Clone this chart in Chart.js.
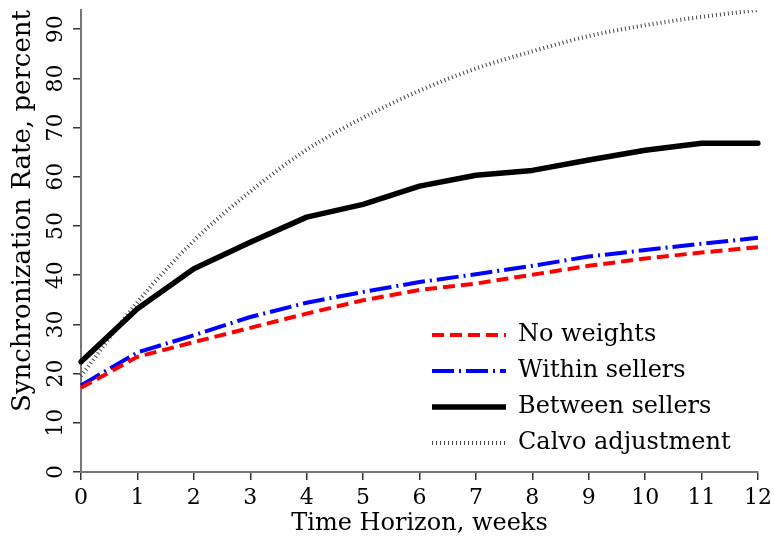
<!DOCTYPE html>
<html>
<head>
<meta charset="utf-8">
<script src="https://cdn.jsdelivr.net/npm/chart.js@4.4.0/dist/chart.umd.min.js"></script>
<style>
  html, body { margin: 0; padding: 0; background: #fff; }
</style>
</head>
<body>
<canvas id="chart" width="774" height="538"></canvas>
<script>
// weeks on the x axis
const weeks = ['0', '1', '2', '3', '4', '5', '6', '7', '8', '9', '10', '11', '12'];
// synchronization rates, percent
const noWeights = [17.1, 23.4, 26.4, 29.3, 32.2, 34.9, 37.0, 38.3, 40.1, 41.9, 43.4, 44.6, 45.7];
const withinSellers = [17.6, 24.3, 27.8, 31.5, 34.4, 36.6, 38.6, 40.2, 41.9, 43.8, 45.1, 46.4, 47.6];
const betweenSellers = [22.4, 33.2, 41.3, 46.7, 51.8, 54.4, 58.1, 60.3, 61.3, 63.4, 65.4, 66.8, 66.8];
const calvo = [19.5, 34.5, 47.0, 57.0, 65.5, 72.0, 77.5, 82.0, 85.5, 88.6, 90.8, 92.5, 93.9];
const yTicks = [0, 10, 20, 30, 40, 50, 60, 70, 80, 90];

const SERIF = '"DejaVu Serif", serif';

// y tick labels + y title are rotated in the original, so draw them here
const sideText = {
  id: 'sideText',
  afterDraw(chart) {
    const ctx = chart.ctx, y = chart.scales.y;
    ctx.save();
    ctx.fillStyle = '#000';
    ctx.textAlign = 'center';
    ctx.textBaseline = 'middle';
    ctx.font = '22px ' + SERIF;
    yTicks.forEach(v => {
      ctx.save();
      ctx.translate(56, y.getPixelForValue(v));
      ctx.rotate(-Math.PI / 2);
      ctx.fillText(String(v), 0, 0);
      ctx.restore();
    });
    ctx.font = '26px ' + SERIF;
    ctx.translate(23, 211);
    ctx.rotate(-Math.PI / 2);
    ctx.fillText('Synchronization Rate, percent', 0, 0);
    ctx.restore();
  }
};

// legend with line samples, bottom right inside the plot
const lineKey = {
  id: 'lineKey',
  afterDraw(chart) {
    const ctx = chart.ctx;
    chart.data.datasets.forEach((ds, i) => {
      const yy = 335 + i * 36;
      ctx.save();
      ctx.strokeStyle = ds.borderColor;
      ctx.lineWidth = ds.borderWidth;
      ctx.setLineDash(ds.borderDash || []);
      ctx.beginPath(); ctx.moveTo(432, yy); ctx.lineTo(506, yy); ctx.stroke();
      ctx.setLineDash([]);
      ctx.fillStyle = '#000';
      ctx.font = '24px ' + SERIF;
      ctx.textBaseline = 'middle';
      ctx.fillText(ds.label, 518, yy);
      ctx.restore();
    });
  }
};

new Chart(document.getElementById('chart'), {
  type: 'line',
  data: {
    labels: weeks,
    datasets: [
      { label: 'No weights', data: noWeights, borderColor: '#ff0000', borderWidth: 4, borderDash: [12, 6] },
      { label: 'Within sellers', data: withinSellers, borderColor: '#0000ff', borderWidth: 4, borderDash: [22, 5, 2, 5] },
      { label: 'Between sellers', data: betweenSellers, borderColor: '#000000', borderWidth: 5.5, borderCapStyle: 'round', borderJoinStyle: 'round' },
      { label: 'Calvo adjustment', data: calvo, borderColor: '#444444', borderWidth: 4, borderDash: [1, 3], cubicInterpolationMode: 'monotone' }
    ]
  },
  options: {
    responsive: false,
    animation: false,
    devicePixelRatio: 1,
    layout: { padding: { top: 10, right: 0, left: 0, bottom: 0 } },
    elements: { point: { radius: 0 }, line: { tension: 0 } },
    plugins: { legend: { display: false }, tooltip: { enabled: false } },
    scales: {
      x: {
        grid: { drawOnChartArea: false, tickLength: 8, tickColor: '#333', lineWidth: 1.5 },
        border: { color: '#777', width: 2 },
        ticks: { color: '#000', font: { family: SERIF, size: 22 }, maxRotation: 0, autoSkip: false, padding: 5 },
        title: { display: true, text: 'Time Horizon, weeks', color: '#000', font: { family: SERIF, size: 24 }, padding: { top: 0, bottom: 0 } },
        afterFit: s => { s.height = 66; s.paddingLeft = 0; s.paddingRight = 16; }
      },
      y: {
        min: 0, max: 93.9,
        grid: { drawOnChartArea: false, tickLength: 8, tickColor: '#333', lineWidth: 1.5 },
        border: { color: '#777', width: 2 },
        ticks: { display: false },
        afterBuildTicks: s => { s.ticks = yTicks.map(v => ({ value: v })); },
        afterFit: s => { s.width = 81; s.paddingTop = 0; s.paddingBottom = 0; }
      }
    }
  },
  plugins: [sideText, lineKey]
});
</script>
</body>
</html>
